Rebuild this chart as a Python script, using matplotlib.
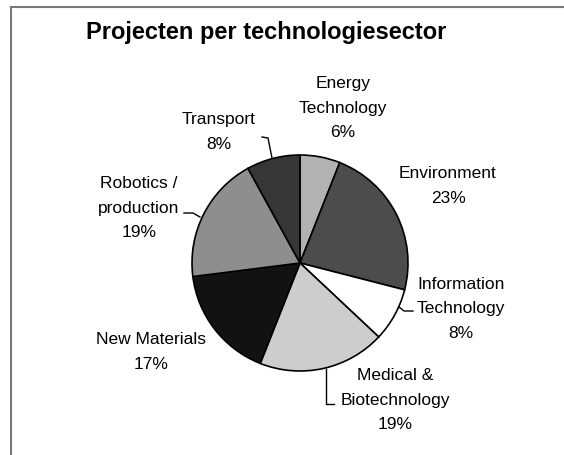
import matplotlib
matplotlib.use("Agg")
import matplotlib.pyplot as plt
from matplotlib.lines import Line2D

# ---- data ----
categories = ["Energy\nTechnology", "Environment", "Information\nTechnology",
              "Medical &\nBiotechnology", "New Materials", "Robotics /\nproduction",
              "Transport"]
percentages = [6, 23, 8, 19, 17, 19, 8]
title = "Projecten per technologiesector"

# ---- styles / layout ----
colors = ["#b2b2b2", "#4c4c4c", "#ffffff", "#cdcdcd", "#121212", "#8e8e8e", "#363636"]
W, H = 564, 455
# label centres in image pixel coords (x, y from top)
label_pos = [(343, 108), (448, 186), (461, 309), (395, 400),
             (151, 352), (139, 208), (219, 132)]
leaders = [
    None, None,
    [(413, 311), (404, 311), (399, 307)],
    [(326, 369), (326, 404), (334, 404)],
    None,
    [(184, 213), (193, 213), (200, 217)],
    [(262, 137), (268, 138), (272, 158)],
]
pie_center = (300, H - 263)
pie_radius = 108

plt.rcParams['font.family'] = ['Liberation Sans', 'DejaVu Sans']

fig = plt.figure(figsize=(W / 100, H / 100), dpi=100)
ax = fig.add_axes([0, 0, 1, 1])
ax.pie(percentages, startangle=90, counterclock=False, colors=colors,
       center=pie_center, radius=pie_radius,
       wedgeprops=dict(edgecolor="black", linewidth=1.2))
ax.set_xlim(0, W)
ax.set_ylim(0, H)
ax.set_aspect("equal")
ax.axis("off")

for cat, pct, (x, y) in zip(categories, percentages, label_pos):
    ax.text(x, H - y, f"{cat}\n{pct}%", ha="center", va="center",
            fontsize=12.5, linespacing=1.78, color="black")

for pts in leaders:
    if pts:
        ax.plot([p[0] for p in pts], [H - p[1] for p in pts], color="black", lw=1)

ax.text(266, H - 33, title, ha="center", va="center", fontsize=17,
        fontweight="bold", color="black")

# frame lines (left and top)
fig.add_artist(Line2D([11 / W, 11 / W], [0, 1 - 7 / H], transform=fig.transFigure,
                      color="#777777", lw=1.5))
fig.add_artist(Line2D([11 / W, 1], [1 - 7 / H, 1 - 7 / H], transform=fig.transFigure,
                      color="#777777", lw=1.5))

fig.savefig("out.png", dpi=100, facecolor="white")
